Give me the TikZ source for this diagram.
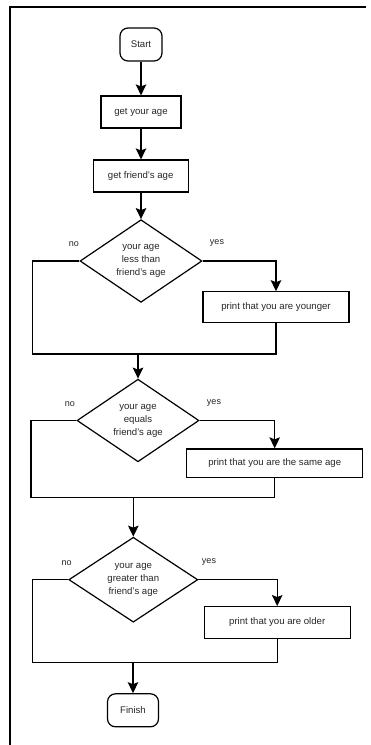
\documentclass[tikz,border=0pt]{standalone}
\usepackage{fontspec}
\setmainfont{Liberation Sans}
\usetikzlibrary{shapes.geometric,arrows.meta}
\begin{document}
\begin{tikzpicture}[x=1pt,y=-1pt,
  every node/.style={font=\fontsize{9.6}{13}\selectfont, text=black!85, inner sep=0pt},
  term/.style={draw, line width=1.2pt, rounded corners=8pt, minimum height=33pt},
  procbox/.style={draw, line width=1.2pt, minimum height=31pt},
  decide/.style={draw, line width=1.2pt, shape=diamond, align=center, minimum width=122pt, minimum height=78pt},
  conn/.style={line width=1.2pt},
  arr/.style={line width=1.4pt, -{Stealth[length=11pt,width=10.5pt,inset=2pt]}},
  lbl/.style={font=\fontsize{9}{11}\selectfont}]
\useasboundingbox (0,0) rectangle (370,745);
\draw[line width=2pt] (366,6.5) -- (10,6.5) -- (10,746);

\node[term, minimum width=42pt] (start) at (141,44.5) {Start};
\node[procbox, minimum width=80pt, minimum height=32pt] (age1) at (141,112) {get your age};
\node[procbox, minimum width=95pt, minimum height=32pt] (age2) at (140.7,176) {get friend's age};

\node[decide] (d1) at (141,261) {your age\\less than\\friend's age};
\node[procbox, minimum width=146pt] (y1) at (276,307.3) {print that you are younger};
\coordinate (j1) at (32.7,354);

\node[decide] (d2) at (138,420.5) {your age\\equals\\friend's age};
\node[procbox, minimum width=176pt, minimum height=28.5pt] (y2) at (274.7,463.2) {print that you are the same age};
\coordinate (j2) at (31,497.3);

\node[decide, minimum width=129pt, minimum height=84pt] (d3) at (133.3,579.7) {your age\\greater than\\friend's age};
\node[procbox, minimum width=146pt, minimum height=31.7pt] (y3) at (277.2,622.5) {print that you are older};
\coordinate (j3) at (32.7,662.3);

\node[term, minimum width=51pt] (finish) at (133,710.3) {Finish};

\node[lbl] (no1) at (74,244) {no};
\node[lbl] (yes1) at (217,243.3) {yes};
\node[lbl] (no2) at (70,404) {no};
\node[lbl] (yes2) at (214,403) {yes};
\node[lbl] (no3) at (66.7,563.3) {no};
\node[lbl] (yes3) at (209,562.3) {yes};

\draw[arr] (start.south) -- (age1.north);
\draw[arr] (age1.south) -- (age1.south |- age2.north);
\draw[arr] (age2.south -| d1.north) -- (d1.north);

\draw[arr] (d1.east) -| (y1.north);
\draw[conn] (d1.west) -| (j1) -| (y1.south);
\draw[arr] (d2.north |- j1) -- (d2.north);

\draw[arr] (d2.east) -| (y2.north);
\draw[conn] (d2.west) -| (j2) -| (y2.south);
\draw[arr] (d3.north |- j2) -- (d3.north);

\draw[arr] (d3.east) -| (y3.north);
\draw[conn] (d3.west) -| (j3) -| (y3.south);
\draw[arr] (finish.north |- j3) -- (finish.north);
\end{tikzpicture}
\end{document}
